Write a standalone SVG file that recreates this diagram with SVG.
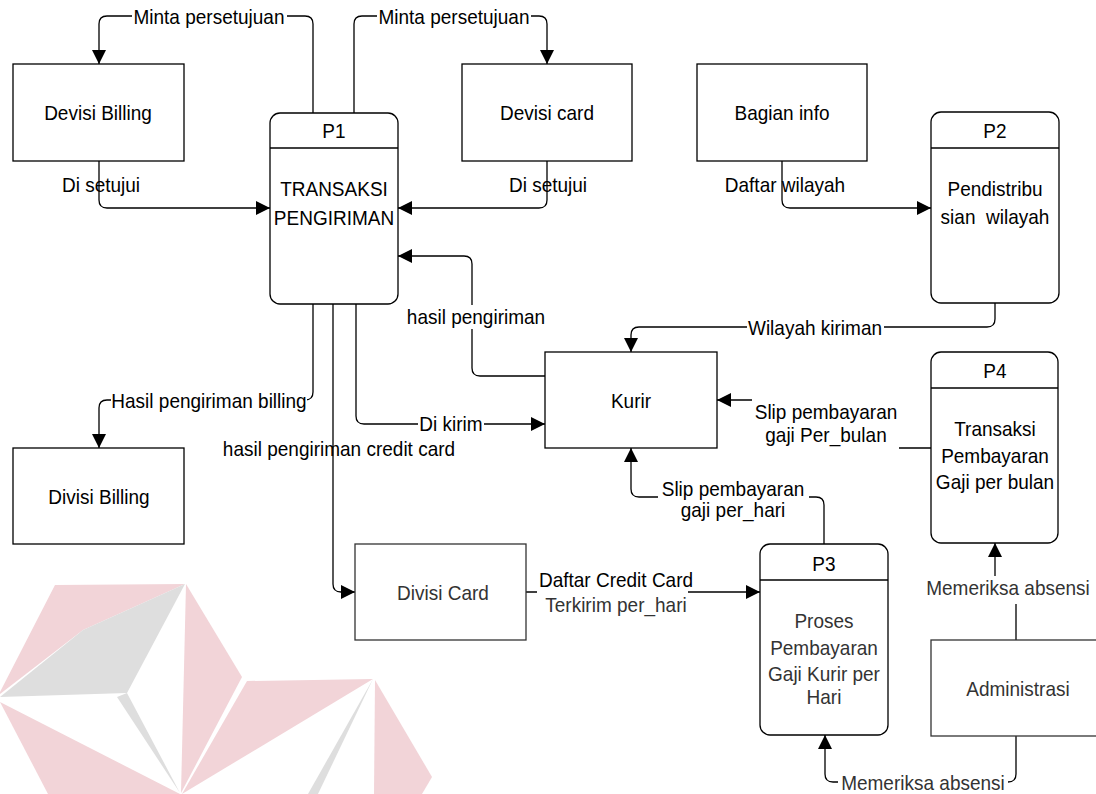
<svg xmlns="http://www.w3.org/2000/svg" width="1096" height="794" viewBox="0 0 1096 794">
  <style>
    .box { fill: #fff; stroke: #000; stroke-width: 1.3; }
    .soft { stroke: #333; }
    .hdr { stroke: #000; stroke-width: 1.3; fill: none; }
    .edge { fill: none; stroke: #000; stroke-width: 1.3; }
    .t { font-family: "Liberation Sans", Arial, Helvetica, sans-serif; font-size: 19px; fill: #000; text-anchor: middle;
         transform-box: fill-box; transform-origin: center; transform: scaleY(1.1); }
    .g { fill: #333; }
    .bg { fill: #fff; stroke: none; }
    .wm1 { fill: #f2d4d8; }
    .wm2 { fill: #dedede; }
  </style>
  <defs>
    <marker id="arr" viewBox="0 0 14 14" refX="14" refY="7" markerWidth="14" markerHeight="14" markerUnits="userSpaceOnUse" orient="auto">
      <path d="M0,0 L14,7 L0,14 z" fill="#000"/>
    </marker>
  </defs>
  <rect width="1096" height="794" fill="#fff"/>

  <!-- faded logo in the lower-left corner -->
  <g id="logo">
    <polygon class="wm1" points="55,585 185,584 83,630 0,694 0,692"/>
    <polygon class="wm2" points="185,584 83,630 0,697 127,693"/>
    <polygon class="wm2" points="127,693 117,697 180,793"/>
    <polygon class="wm1" points="186,584 242,677 181,793"/>
    <polygon class="wm1" points="0,702 48,794 180,794"/>
    <polygon class="wm1" points="247,681 373,679 182,794"/>
    <polygon class="wm2" points="373,679 308,794 318,794"/>
    <polygon class="wm1" points="375,680 432,777 422,794 374,794"/>
  </g>

  <!-- data flows -->
  <g id="connectors">
    <path class="edge" d="M313,113 V24 Q313,16 305,16 H107 Q99,16 99,24 V64" marker-end="url(#arr)"/>
    <path class="edge" d="M354,113 V24 Q354,16 362,16 H539 Q547,16 547,24 V64" marker-end="url(#arr)"/>
    <path class="edge" d="M99,161 V200 Q99,208 107,208 H270" marker-end="url(#arr)"/>
    <path class="edge" d="M547,161 V200 Q547,208 539,208 H398" marker-end="url(#arr)"/>
    <path class="edge" d="M545,376 H480 Q472,376 472,368 V264 Q472,256 464,256 H398" marker-end="url(#arr)"/>
    <path class="edge" d="M356,304 V416 Q356,424 364,424 H545" marker-end="url(#arr)"/>
    <path class="edge" d="M313,304 V392 Q313,400 305,400 H107 Q99,400 99,408 V448" marker-end="url(#arr)"/>
    <path class="edge" d="M333,304 V584 Q333,592 341,592 H355" marker-end="url(#arr)"/>
    <path class="edge" d="M782,161 V200 Q782,208 790,208 H931" marker-end="url(#arr)"/>
    <path class="edge" d="M995,303 V319 Q995,327 987,327 H639 Q631,327 631,335 V352" marker-end="url(#arr)"/>
    <path class="edge" d="M931,448 H826 V400 H717" marker-end="url(#arr)"/>
    <path class="edge" d="M824,544 V505 Q824,497 816,497 H639 Q631,497 631,489 V448" marker-end="url(#arr)"/>
    <path class="edge" d="M526,592 H760" marker-end="url(#arr)"/>
    <path class="edge" d="M1016,640 V590 H995 V543" marker-end="url(#arr)"/>
    <path class="edge" d="M1016,736 V774 Q1016,782 1008,782 H833 Q825,782 825,774 V735" marker-end="url(#arr)"/>

    <!-- flow labels -->
    <rect class="bg" x="132" y="5" width="155" height="23"/>
    <text class="t" x="209" y="23">Minta persetujuan</text>
    <rect class="bg" x="377" y="5" width="154" height="23"/>
    <text class="t" x="454" y="23">Minta persetujuan</text>
    <text class="t" x="101" y="191">Di setujui</text>
    <text class="t" x="548" y="191">Di setujui</text>
    <rect class="bg" x="405" y="305" width="142" height="24"/>
    <text class="t" x="476" y="323">hasil pengiriman</text>
    <rect class="bg" x="418" y="412" width="66" height="24"/>
    <text class="t" x="451" y="430">Di kirim</text>
    <rect class="bg" x="111" y="389" width="196" height="24"/>
    <text class="t" x="209" y="407">Hasil pengiriman billing</text>
    <text class="t" x="339" y="455">hasil pengiriman credit card</text>
    <text class="t" x="785" y="191">Daftar wilayah</text>
    <rect class="bg" x="747" y="315" width="137" height="24"/>
    <text class="t" x="815" y="334">Wilayah kiriman</text>
    <rect class="bg" x="752" y="396" width="147" height="57"/>
    <text class="t" x="826" y="418">Slip pembayaran</text>
    <text class="t" x="826" y="441">gaji Per_bulan</text>
    <rect class="bg" x="658" y="477" width="151" height="46"/>
    <text class="t" x="733" y="495">Slip pembayaran</text>
    <text class="t" x="733" y="516">gaji per_hari</text>
    <rect class="bg" x="537" y="569" width="151" height="47"/>
    <text class="t" x="616" y="586">Daftar Credit Card</text>
    <text class="t g" x="616" y="611">Terkirim per_hari</text>
    <rect class="bg" x="922" y="576" width="174" height="28"/>
    <text class="t g" x="1008" y="594">Memeriksa absensi</text>
    <rect class="bg" x="838" y="771" width="170" height="23"/>
    <text class="t g" x="923" y="789">Memeriksa absensi</text>
  </g>

  <g id="devisi-billing">
    <rect class="box" x="13" y="64" width="171" height="97"/>
    <text class="t" x="98" y="119">Devisi Billing</text>
  </g>

  <g id="p1">
    <rect class="box" x="270" y="113" width="128" height="191" rx="10"/>
    <line class="hdr" x1="270" y1="148" x2="398" y2="148"/>
    <text class="t" x="334" y="137">P1</text>
    <text class="t" x="334" y="195">TRANSAKSI</text>
    <text class="t" x="334" y="224">PENGIRIMAN</text>
  </g>

  <g id="devisi-card">
    <rect class="box" x="462" y="64" width="170" height="97"/>
    <text class="t" x="547" y="119">Devisi card</text>
  </g>

  <g id="bagian-info">
    <rect class="box" x="697" y="64" width="170" height="97"/>
    <text class="t" x="782" y="119">Bagian info</text>
  </g>

  <g id="p2">
    <rect class="box" x="931" y="112" width="128" height="191" rx="10"/>
    <line class="hdr" x1="931" y1="148" x2="1059" y2="148"/>
    <text class="t" x="995" y="137">P2</text>
    <text class="t" x="995" y="195">Pendistribu</text>
    <text class="t" x="995" y="223" xml:space="preserve">sian  wilayah</text>
  </g>

  <g id="kurir">
    <rect class="box" x="545" y="352" width="172" height="96"/>
    <text class="t" x="631" y="407">Kurir</text>
  </g>

  <g id="p4">
    <rect class="box" x="931" y="352" width="127" height="191" rx="10"/>
    <line class="hdr" x1="931" y1="388" x2="1058" y2="388"/>
    <text class="t" x="995" y="377">P4</text>
    <text class="t" x="995" y="435">Transaksi</text>
    <text class="t" x="995" y="462">Pembayaran</text>
    <text class="t" x="995" y="488">Gaji per bulan</text>
  </g>

  <g id="divisi-billing">
    <rect class="box" x="13" y="448" width="171" height="96"/>
    <text class="t" x="99" y="503">Divisi Billing</text>
  </g>

  <g id="divisi-card">
    <rect class="box soft" x="355" y="544" width="171" height="96"/>
    <text class="t g" x="443" y="599">Divisi Card</text>
  </g>

  <g id="p3">
    <rect class="box" x="760" y="544" width="128" height="191" rx="10"/>
    <line class="hdr" x1="760" y1="580" x2="888" y2="580"/>
    <text class="t" x="824" y="570">P3</text>
    <text class="t g" x="824" y="627">Proses</text>
    <text class="t g" x="824" y="654">Pembayaran</text>
    <text class="t g" x="824" y="680">Gaji Kurir per</text>
    <text class="t g" x="824" y="703">Hari</text>
  </g>

  <g id="administrasi">
    <rect class="box soft" x="931" y="640" width="172" height="96"/>
    <text class="t g" x="1018" y="695">Administrasi</text>
  </g>
</svg>
